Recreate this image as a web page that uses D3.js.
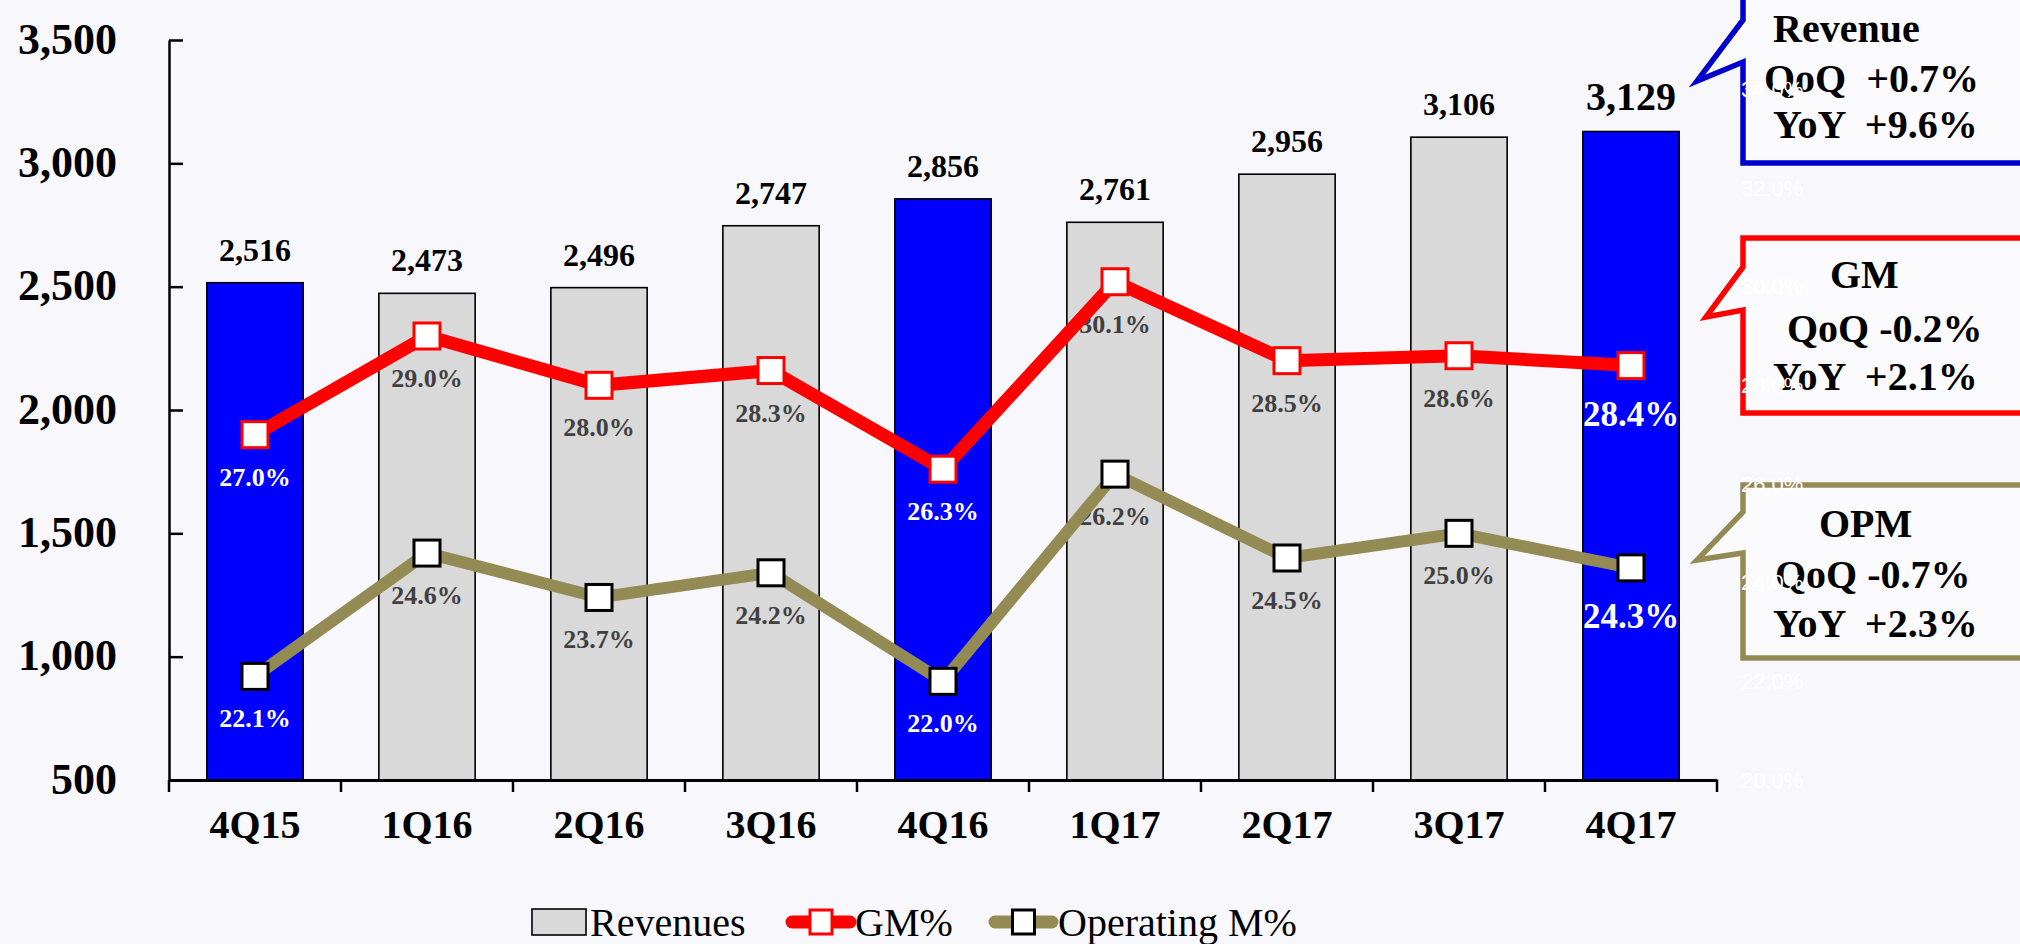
<!DOCTYPE html>
<html lang="en">
<head>
  <meta charset="UTF-8">
  <title>Revenue, GM and OPM</title>
</head>
<style>
    body {
      margin: 0;
      background: #f8f8fc;
    }
    text {
      font-family: "Liberation Serif", "Times New Roman", Times, serif;
    }
    .bold {
      font-weight: bold;
    }
    .pre {
      white-space: pre;
    }
</style>
<body>

<div id="chart"></div>

<script src="https://d3js.org/d3.v7.min.js"></script>

<script>
/* global d3 */

var categories = ["4Q15", "1Q16", "2Q16", "3Q16", "4Q16", "1Q17", "2Q17", "3Q17", "4Q17"];
var revenues = [2516, 2473, 2496, 2747, 2856, 2761, 2956, 3106, 3129];
var gmPct = [27.0, 29.0, 28.0, 28.3, 26.3, 30.1, 28.5, 28.6, 28.4];
var opmPct = [22.1, 24.6, 23.7, 24.2, 22.0, 26.2, 24.5, 25.0, 24.3];
var fourthQuarters = ["4Q15", "4Q16", "4Q17"];

var revTicks = [500, 1000, 1500, 2000, 2500, 3000, 3500];
var pctTicks = [20, 22, 24, 26, 28, 30, 32, 34];

var legendNames = ["Revenues", "GM%", "Operating M%"];

var calloutTitles = ["Revenue", "GM", "OPM"];
var calloutQoQ = ["QoQ  +0.7%", "QoQ -0.2%", "QoQ -0.7%"];
var calloutYoY = ["YoY  +9.6%", "YoY  +2.1%", "YoY  +2.3%"];

var width = 2020;
var height = 944;
var plot = {left: 169, right: 1717, top: 40, bottom: 780};

var blue = "#0000ff";
var grey = "#d9d9d9";
var red = "#ff0000";
var olive = "#948a54";

var svg = d3.select("#chart")
    .append("svg")
    .attr("width", width)
    .attr("height", height);

svg.append("rect")
    .attr("width", width)
    .attr("height", height)
    .attr("fill", "#f8f8fc");

var x = d3.scaleBand()
    .domain(categories)
    .range([plot.left, plot.right])
    .paddingInner(0.44)
    .paddingOuter(0.22);

var y = d3.scaleLinear()
    .domain([500, 3500])
    .range([plot.bottom, plot.top]);

// secondary (percent) axis, same plot area
var yPct = d3.scaleLinear()
    .domain([20, 35])
    .range([plot.bottom, plot.top]);

function cx(d) {
  return x(d) + x.bandwidth() / 2;
}
function isQ4(c) {
  return fourthQuarters.indexOf(c) >= 0;
}

var rows = categories.map(function(c, i) {
  return {cat: c, rev: revenues[i], gm: gmPct[i], opm: opmPct[i], q4: isQ4(c), last: i === categories.length - 1};
});

// y axis, ticks point into the plot
var yAxis = svg.append("g")
    .attr("transform", "translate(" + plot.left + ",0)")
    .call(d3.axisLeft(y).tickValues(revTicks).tickSizeInner(-14).tickSizeOuter(0).tickPadding(52)
      .tickFormat(d3.format(",")));
yAxis.select(".domain").attr("stroke", "#000").attr("stroke-width", 2.5);
yAxis.selectAll(".tick line").attr("stroke", "#000").attr("stroke-width", 2.5);
yAxis.selectAll(".tick text")
    .attr("fill", "#000")
    .attr("dy", "0.3em")
    .style("font-size", "44px")
    .style("font-family", "'Liberation Serif', 'Times New Roman', serif")
    .style("font-weight", "bold");

// bars
svg.selectAll(".bar")
    .data(rows)
    .enter()
    .append("rect")
    .attr("class", "bar")
    .attr("x", function(d) { return x(d.cat); })
    .attr("y", function(d) { return y(d.rev); })
    .attr("width", x.bandwidth())
    .attr("height", function(d) { return y(500) - y(d.rev); })
    .attr("fill", function(d) { return d.q4 ? blue : grey; })
    .attr("stroke", "#000")
    .attr("stroke-width", 1.6);

// x axis
var xAxis = svg.append("g")
    .attr("transform", "translate(0," + plot.bottom + ")")
    .call(d3.axisBottom(x).tickSize(0).tickPadding(20));
xAxis.select(".domain").attr("stroke", "#000").attr("stroke-width", 3);
xAxis.selectAll(".tick text")
    .attr("fill", "#000")
    .attr("dy", "0.95em")
    .style("font-size", "40px")
    .style("font-family", "'Liberation Serif', 'Times New Roman', serif")
    .style("font-weight", "bold");

// boundary ticks between categories
var bounds = d3.range(categories.length + 1).map(function(i) {
  return plot.left + i * x.step();
});
svg.selectAll(".xtick")
    .data(bounds)
    .enter()
    .append("line")
    .attr("x1", function(d) { return d; })
    .attr("x2", function(d) { return d; })
    .attr("y1", plot.bottom)
    .attr("y2", plot.bottom + 12)
    .attr("stroke", "#000")
    .attr("stroke-width", 2.5);

// revenue labels
svg.selectAll(".revLabel")
    .data(rows)
    .enter()
    .append("text")
    .attr("class", "bold")
    .attr("x", function(d) { return cx(d.cat); })
    .attr("y", function(d) { return y(d.rev) - 22; })
    .attr("text-anchor", "middle")
    .style("font-size", function(d) { return d.last ? "40px" : "32px"; })
    .text(function(d) { return d3.format(",")(d.rev); });

// percent labels (under the markers)
function pctLabels(key) {
  svg.selectAll(".lab-" + key)
      .data(rows)
      .enter()
      .append("text")
      .attr("class", "bold")
      .attr("x", function(d) { return cx(d.cat); })
      .attr("y", function(d) { return yPct(d[key]) + (d.last ? 60 : 51); })
      .attr("text-anchor", "middle")
      .attr("fill", function(d) { return d.q4 ? "#fff" : "#404040"; })
      .style("font-size", function(d) { return d.last ? "35px" : "26px"; })
      .text(function(d) { return d[key].toFixed(1) + "%"; });
}
pctLabels("gm");
pctLabels("opm");

// lines
function drawLine(key, colour, w, edge) {
  var line = d3.line()
      .x(function(d) { return cx(d.cat); })
      .y(function(d) { return yPct(d[key]); });
  svg.append("path")
      .datum(rows)
      .attr("d", line)
      .attr("fill", "none")
      .attr("stroke", colour)
      .attr("stroke-width", w)
      .attr("stroke-linejoin", "miter");
  svg.selectAll(".mk-" + key)
      .data(rows)
      .enter()
      .append("rect")
      .attr("x", function(d) { return cx(d.cat) - 13; })
      .attr("y", function(d) { return yPct(d[key]) - 13; })
      .attr("width", 26)
      .attr("height", 26)
      .attr("fill", "#fff")
      .attr("stroke", edge)
      .attr("stroke-width", 3);
}
drawLine("opm", olive, 12, "#000");
drawLine("gm", red, 13, red);

// callouts
var callouts = [
  {colour: "#0000cc", top: -10, bottom: 163, b1: 20, b2: 62, tip: [1697, 81],
   tx: [1773, 1764, 1773], ty: [42, 92, 138]},
  {colour: red, top: 238, bottom: 413, b1: 267, b2: 310, tip: [1706, 317],
   tx: [1830, 1787, 1773], ty: [288, 342, 390]},
  {colour: olive, top: 485, bottom: 658, b1: 512, b2: 553, tip: [1697, 560],
   tx: [1819, 1775, 1773], ty: [537, 588, 637]}
];
var boxLeft = 1743;
var boxRight = 2060;

callouts.forEach(function(c, i) {
  var pts = [
    [boxLeft, c.top], [boxRight, c.top], [boxRight, c.bottom], [boxLeft, c.bottom],
    [boxLeft, c.b2], c.tip, [boxLeft, c.b1]
  ];
  svg.append("path")
      .attr("d", "M" + pts.join("L") + "Z")
      .attr("fill", "#fbfbfd")
      .attr("stroke", c.colour)
      .attr("stroke-width", 5.5)
      .attr("stroke-linejoin", "miter");
  var lines = [calloutTitles[i], calloutQoQ[i], calloutYoY[i]];
  lines.forEach(function(t, j) {
    svg.append("text")
        .attr("class", "bold pre")
        .attr("x", c.tx[j])
        .attr("y", c.ty[j])
        .style("font-size", "40px")
        .text(t);
  });
});

// secondary axis labels, drawn in white as on the slide
svg.selectAll(".pctTick")
    .data(pctTicks)
    .enter()
    .append("text")
    .attr("x", 1741)
    .attr("y", function(d) { return yPct(d); })
    .attr("dy", "0.35em")
    .attr("fill", "#fff")
    .style("font-family", "'Liberation Sans', Arial, sans-serif")
    .style("font-size", "22px")
    .text(function(d) { return d.toFixed(1) + "%"; });

// legend
var legendY = 922;
var lg = svg.append("g");
lg.append("rect")
    .attr("x", 532).attr("y", legendY - 13)
    .attr("width", 54).attr("height", 26)
    .attr("fill", grey).attr("stroke", "#000").attr("stroke-width", 1.6);
lg.append("text")
    .attr("x", 590).attr("y", legendY + 14)
    .style("font-size", "40px")
    .text(legendNames[0]);

var legendLines = [
  {x1: 792, x2: 850, colour: red, edge: red, text: 855, name: legendNames[1]},
  {x1: 995, x2: 1052, colour: olive, edge: "#000", text: 1058, name: legendNames[2]}
];
legendLines.forEach(function(l) {
  lg.append("line")
      .attr("x1", l.x1).attr("x2", l.x2)
      .attr("y1", legendY).attr("y2", legendY)
      .attr("stroke", l.colour)
      .attr("stroke-width", 13)
      .attr("stroke-linecap", "round");
  lg.append("rect")
      .attr("x", (l.x1 + l.x2) / 2 - 11).attr("y", legendY - 12)
      .attr("width", 22).attr("height", 24)
      .attr("fill", "#fff")
      .attr("stroke", l.edge)
      .attr("stroke-width", 3);
  lg.append("text")
      .attr("x", l.text).attr("y", legendY + 14)
      .style("font-size", "40px")
      .text(l.name);
});

</script>

</body>
</html>
